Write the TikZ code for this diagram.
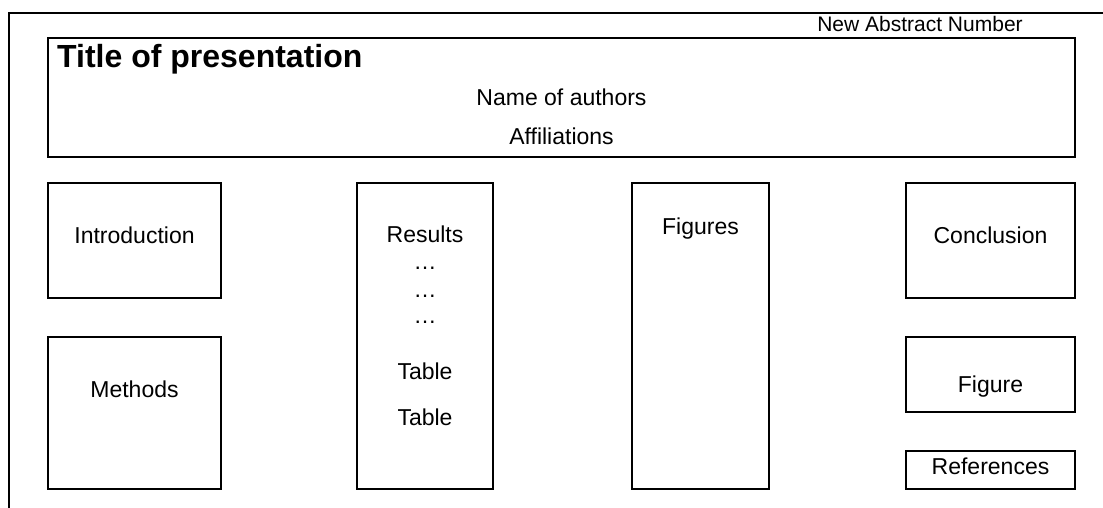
\documentclass[tikz,border=0pt]{standalone}
\usepackage{fontspec}
\setmainfont{Liberation Sans}
\usetikzlibrary{fit}

\begin{document}
\begin{tikzpicture}[x=1pt,y=-1pt,
                    panel/.style={draw, line width=1.3pt, inner sep=0pt},
                    lbl/.style={anchor=base, inner sep=0pt, font=\fontsize{23}{28}\selectfont}]
                \useasboundingbox (0,0) rectangle (1103,508);
                \draw[line width=1.3pt] (9,508) -- (9,13) -- (1103,13);
                \node[anchor=base, inner sep=0pt, font=\fontsize{21}{25}\selectfont] (absnum) at (920,32) {New Abstract Number};
                \node[panel, fit={(48,38) (1075,157)}] (head) {};
                \node[anchor=base west, inner sep=0pt, font=\fontsize{32}{38}\selectfont\bfseries] (title) at (57,68) {Title of presentation};
                \node[lbl] (authors) at (561.5,106) {Name of authors};
                \node[lbl] (affil) at (561.5,145) {Affiliations};
                \node[panel, fit={(48,183) (221,298)}] (intro) {};
                \node[panel, fit={(48,337) (221,489)}] (methods) {};
                \node[panel, fit={(357,183) (493,489)}] (results) {};
                \node[panel, fit={(632,183) (769,489)}] (figures) {};
                \node[panel, fit={(906,183) (1075,298)}] (concl) {};
                \node[panel, fit={(906,337) (1075,412)}] (figure) {};
                \node[panel, fit={(906,451) (1075,489)}] (refs) {};
                \node[lbl] (introtxt) at (134.5,243) {Introduction};
                \node[lbl] (methodstxt) at (134.5,397) {Methods};
                \node[lbl] (resultstxt) at (425,242) {Results};
                \foreach \y/\n in {269/a, 297/b, 323/c}
                    \node[lbl] (dots\n) at (425,\y) {…};
                \node[lbl] (tablea) at (425,379) {Table};
                \node[lbl] (tableb) at (425,425) {Table};
                \node[lbl] (figurestxt) at (700.5,234) {Figures};
                \node[lbl] (concltxt) at (990.5,243) {Conclusion};
                \node[lbl] (figuretxt) at (990.5,392) {Figure};
                \node[lbl] (refstxt) at (990.5,474) {References};
                \end{tikzpicture}
\end{document}
